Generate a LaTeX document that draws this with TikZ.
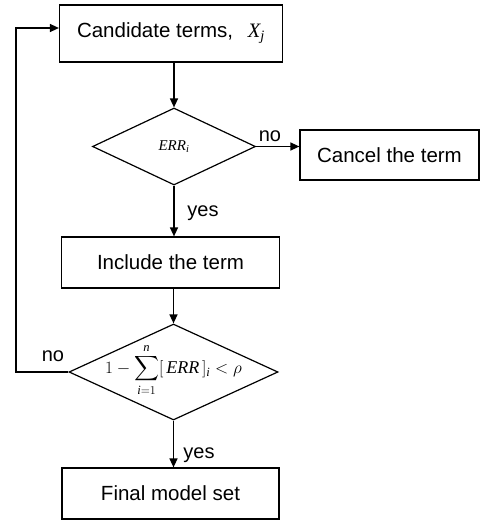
\documentclass[tikz,border=0pt]{standalone}
\usepackage{amsmath}
\usepackage{fontspec}
\setmainfont{Liberation Sans}
\newfontfamily\serifface{Liberation Serif}
\newcommand{\tmi}[1]{\text{\serifface\itshape #1}}
\usetikzlibrary{shapes.geometric,arrows.meta,calc}
\tikzset{
  procbox/.style={draw, line width=1.2pt, rectangle, inner sep=0pt, font=\fontsize{20.5}{24}\selectfont},
  decide/.style={draw, line width=1.2pt, diamond, inner sep=0pt},
  flow/.style={line width=1.4pt, -{Triangle[length=9pt,width=8pt]}},
  lbl/.style={font=\fontsize{20}{22}\selectfont, inner sep=1pt}
}
\begin{document}
\begin{tikzpicture}[x=1pt,y=-1pt]
\useasboundingbox (0,0) rectangle (481,520);
\node[procbox, minimum width=223pt, minimum height=57pt] (cand) at (171,33.5) {Candidate terms,\;\, $\tmi{X}_{\tmi{j}}$};
\node[decide, minimum width=163pt, minimum height=77pt] (d1) at (174,146.5) {};
\node[inner sep=0pt] (d1text) at (d1.center) {\fontsize{15}{17}\selectfont$\tmi{ERR}_{\tmi{i}}$};
\node[procbox, minimum width=179pt, minimum height=50pt] (cancel) at (389.5,155) {Cancel the term};
\node[procbox, minimum width=218pt, minimum height=51pt] (incl) at (170.5,262.5) {Include the term};
\node[decide, minimum width=209pt, minimum height=96pt] (d2) at (173.5,372) {};
\node[inner sep=0pt] (d2text) at ([yshift=2pt]d2.center) {\fontsize{18}{20}\selectfont$\displaystyle 1-\sum_{\tmi{i}=1}^{\tmi{n}}[\,\tmi{ERR}\,]_{\tmi{i}}<\rho$};
\node[procbox, minimum width=217pt, minimum height=51pt] (final) at (170.5,493.5) {Final model set};
\draw[flow] (cand.south -| d1.north) -- (d1.north);
\draw[flow] (d1.east) -- (cancel.west |- d1.east);
\draw[flow] (d1.south) -- (d1.south |- incl.north);
\draw[flow] (incl.south -| d2.north) -- (d2.north);
\draw[flow] (d2.south) -- (d2.south |- final.north);
\coordinate (loop) at (16,372);
\draw[flow] (d2.west) -- (loop) |- ([yshift=5.5pt]cand.west);
\node[lbl] (no1) at (270,136) {no};
\node[lbl] (yes1) at (203,213) {yes};
\node[lbl] (no2) at (53,356) {no};
\node[lbl] (yes2) at (199,455) {yes};
\end{tikzpicture}
\end{document}
